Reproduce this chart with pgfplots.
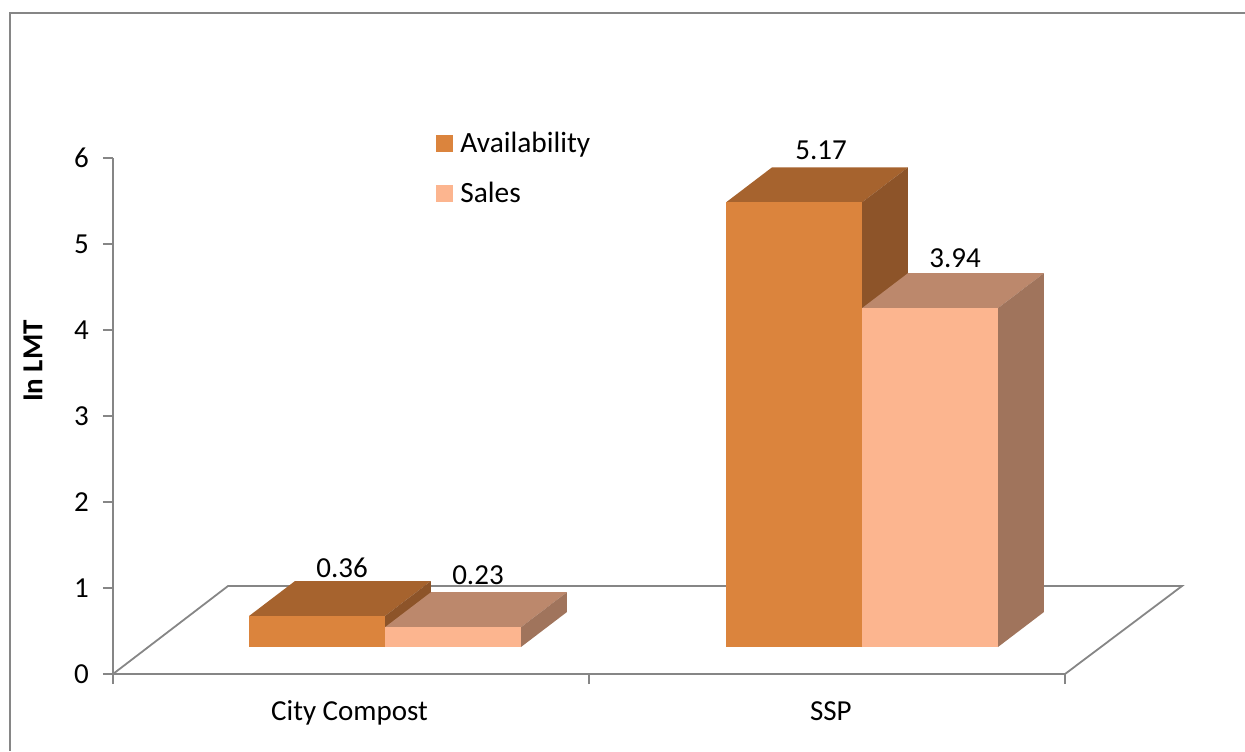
\documentclass[border=0pt]{standalone}
\usepackage{pgfplots}
\pgfplotsset{compat=1.18}
\usepackage{fontspec}
\setmainfont{Carlito}
\definecolor{axisgray}{HTML}{868686}
\definecolor{afront}{HTML}{DB843D}
\definecolor{atop}{HTML}{A6632E}
\definecolor{aside}{HTML}{8D5429}
\definecolor{sfront}{HTML}{FCB58F}
\definecolor{stop}{HTML}{BC886C}
\definecolor{sside}{HTML}{A0745C}
\begin{document}
\begin{tikzpicture}
\useasboundingbox (-56.5pt,-38.5pt) rectangle (566pt,337pt);
\begin{axis}[
  anchor=south west, at={(0pt,0pt)},
  scale only axis, width=476pt, height=258pt,
  xmin=0, xmax=2, ymin=0, ymax=6,
  clip=false,
  axis lines*=left,
  axis line style={axisgray, line width=0.9pt, -},
  tick style={axisgray, line width=0.7pt},
  tick align=outside,
  major tick length=5pt,
  xtick={0,1,2}, xticklabels={},
  extra x ticks={0.497,1.508},
  extra x tick labels={City Compost,SSP},
  extra x tick style={major tick length=0pt, tick label style={yshift=-9.5pt, text height=10pt, text depth=3.5pt}},
  ytick={0,1,2,3,4,5,6},
  ylabel={\fontsize{14.5}{17}\selectfont\textbf{In LMT}},
  every axis y label/.style={at={(axis cs:-0.168,3.64)}, rotate=90, anchor=center},
  tick label style={font=\fontsize{14.5}{17}\selectfont},
  yticklabel style={xshift=-3.5pt},
  /pgf/number format/assume math mode=true,
  legend cell align=left,
  legend style={draw=none, fill=none, at={(axis cs:0.6786,6.315)}, anchor=north west,
    font=\fontsize{14.7}{17}\selectfont, inner sep=0pt, row sep=13pt, column sep=3.5pt,
    nodes={inner sep=0pt, anchor=west, text height=9pt, text depth=3pt}},
  legend image code/.code={\fill[#1] (0pt,-4.2pt) rectangle (8.5pt,4.2pt);},
  every axis plot/.append style={draw=none, line width=0pt},
]
% floor
\addplot[forget plot, draw=axisgray, line width=0.9pt, fill=none] coordinates {(0,0) (0.2416,1.023) (2.2458,1.023) (2,0)};
% City Compost: Availability
\addplot[forget plot, fill=atop] coordinates {(0.2857,0.674) (0.5714,0.674) (0.668,1.081) (0.3823,1.081)} -- cycle;
\addplot[forget plot, fill=aside] coordinates {(0.5714,0.314) (0.668,0.721) (0.668,1.081) (0.5714,0.674)} -- cycle;
\addplot[fill=afront] coordinates {(0.2857,0.314) (0.5714,0.314) (0.5714,0.674) (0.2857,0.674)} -- cycle;
\addlegendentry{\raisebox{-1.5pt}{Availability}}
% City Compost: Sales
\addplot[forget plot, fill=stop] coordinates {(0.5714,0.544) (0.8571,0.544) (0.9537,0.951) (0.668,0.951)} -- cycle;
\addplot[forget plot, fill=sside] coordinates {(0.8571,0.314) (0.9537,0.721) (0.9537,0.951) (0.8571,0.544)} -- cycle;
\addplot[fill=sfront] coordinates {(0.5714,0.314) (0.8571,0.314) (0.8571,0.544) (0.5714,0.544)} -- cycle;
\addlegendentry{\raisebox{-1.5pt}{Sales}}
% SSP: Availability
\addplot[forget plot, fill=atop] coordinates {(1.2878,5.484) (1.5735,5.484) (1.6701,5.891) (1.3844,5.891)} -- cycle;
\addplot[forget plot, fill=aside] coordinates {(1.5735,0.314) (1.6701,0.721) (1.6701,5.891) (1.5735,5.484)} -- cycle;
\addplot[forget plot, fill=afront] coordinates {(1.2878,0.314) (1.5735,0.314) (1.5735,5.484) (1.2878,5.484)} -- cycle;
% SSP: Sales
\addplot[forget plot, fill=stop] coordinates {(1.5735,4.254) (1.8592,4.254) (1.9558,4.661) (1.6701,4.661)} -- cycle;
\addplot[forget plot, fill=sside] coordinates {(1.8592,0.314) (1.9558,0.721) (1.9558,4.661) (1.8592,4.254)} -- cycle;
\addplot[forget plot, fill=sfront] coordinates {(1.5735,0.314) (1.8592,0.314) (1.8592,4.254) (1.5735,4.254)} -- cycle;
% data labels
\node[font=\fontsize{14.5}{17}\selectfont] at (axis cs:0.4811,1.23) {0.36};
\node[font=\fontsize{14.5}{17}\selectfont] at (axis cs:0.7668,1.15) {0.23};
\node[font=\fontsize{14.5}{17}\selectfont] at (axis cs:1.4874,6.09) {5.17};
\node[font=\fontsize{14.5}{17}\selectfont] at (axis cs:1.7689,4.84) {3.94};
% chart frame
\draw[axisgray, line width=0.9pt] (axis cs:-0.2163,-0.895) -- (axis cs:-0.2163,7.69) -- (axis cs:2.3782,7.69);
\end{axis}
\end{tikzpicture}
\end{document}
